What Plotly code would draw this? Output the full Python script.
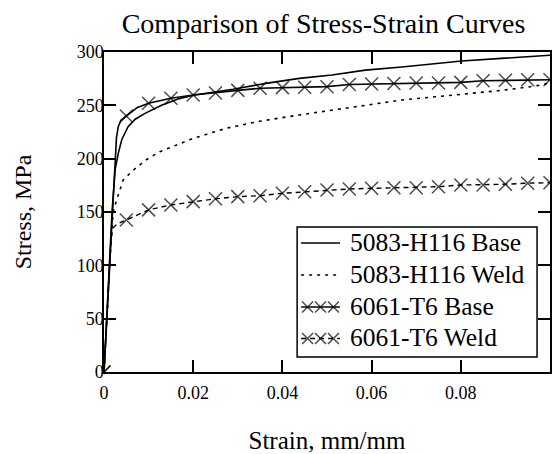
import plotly.graph_objects as go
import numpy as np

# ---- data ----
base_5083_strain = [0, 0.0006, 0.0012, 0.0018, 0.0025, 0.0032, 0.0040, 0.0054, 0.0070, 0.0092, 0.0129,
                    0.0166, 0.0203, 0.0240, 0.0289, 0.0363, 0.0438, 0.0511, 0.0586, 0.0668, 0.0802,
                    0.0891, 0.0966, 0.1000]
base_5083_stress = [0, 50, 100, 150, 190, 205, 218, 230, 237, 242.5, 250,
                    256, 259.7, 262, 265, 270.6, 275.3, 278.4, 283, 286, 291.6,
                    294, 296, 297]

weld_5083_strain = [0, 0.0006, 0.0012, 0.0016, 0.0019, 0.0022, 0.0028, 0.0043, 0.0065, 0.0095, 0.0125,
                    0.0200, 0.0274, 0.0348, 0.0438, 0.0512, 0.0586, 0.0668, 0.0743, 0.0817,
                    0.0891, 0.0966, 0.1000]
weld_5083_stress = [0, 50, 100, 125, 142, 152, 161, 180, 189, 199, 206.5,
                    219, 228.5, 235, 241, 245.6, 250.3, 255, 258, 261,
                    264, 268, 271]

base_6061_strain = [0, 0.0006, 0.0012, 0.0018, 0.0024, 0.0028, 0.0032, 0.0038, 0.005, 0.0075, 0.010,
                    0.015, 0.020, 0.025, 0.030, 0.035, 0.040, 0.045, 0.050, 0.055, 0.060,
                    0.065, 0.070, 0.075, 0.080, 0.085, 0.090, 0.095, 0.100]
base_6061_stress = [0, 50, 100, 150, 200, 220, 230, 236, 240, 248, 252,
                    256.6, 259.7, 261.5, 264, 266, 266.6, 267, 267.5, 269.5, 270,
                    270.5, 271, 271, 271.5, 273, 273.5, 274, 274]

weld_6061_strain = [0, 0.0006, 0.0012, 0.0016, 0.0020, 0.0030, 0.005, 0.010,
                    0.015, 0.020, 0.025, 0.030, 0.035, 0.040, 0.045, 0.050, 0.055, 0.060,
                    0.065, 0.070, 0.075, 0.080, 0.085, 0.090, 0.095, 0.100]
weld_6061_stress = [0, 50, 100, 125, 135, 139, 142.5, 152,
                    156.6, 159.7, 162.4, 164.4, 165.3, 167.5, 169, 170.6, 171.6, 172.2,
                    172.8, 172.8, 173.7, 175.3, 175.3, 176, 177, 177.5]

x_ticks = [0, 0.02, 0.04, 0.06, 0.08]
x_tick_text = ["0", "0.02", "0.04", "0.06", "0.08"]
y_ticks = [0, 50, 100, 150, 200, 250, 300]

series_names = ["5083-H116 Base", "5083-H116 Weld", "6061-T6 Base", "6061-T6 Weld"]

# ---- styling ----
FONT = "Liberation Serif"
MARKER_STEP = 0.005
MARKER_SIZE = 13
W, H = 552, 454
M_L, M_R, M_T, M_B = 104, 0, 52, 82

styles = [
    dict(line=dict(color="black", width=1.6), markers=False),
    dict(line=dict(color="black", width=1.6, dash="3px,5px"), markers=False),
    dict(line=dict(color="black", width=1.6), markers=True),
    dict(line=dict(color="black", width=1.4, dash="5px,4px"), markers=True),
]
x_marker = dict(symbol="x-thin", color="black", line=dict(color="black", width=1.5))


def marker_sizes(strain):
    s = np.asarray(strain) / MARKER_STEP
    return [MARKER_SIZE if abs(v - round(v)) < 1e-6 else 0 for v in s]


fig = go.Figure()
datasets = [(base_5083_strain, base_5083_stress), (weld_5083_strain, weld_5083_stress),
            (base_6061_strain, base_6061_stress), (weld_6061_strain, weld_6061_stress)]
for name, (xs, ys), st in zip(series_names, datasets, styles):
    kw = dict(x=xs, y=ys, name=name, line=st["line"], showlegend=False)
    if st["markers"]:
        kw["mode"] = "lines+markers"
        kw["marker"] = dict(size=marker_sizes(xs), **x_marker)
    else:
        kw["mode"] = "lines"
    fig.add_trace(go.Scatter(**kw))

# ---- custom legend (drawn on a pixel-unit overlay axis pair) ----
LEG_BOX = (298, 227, 539, 357)        # left, top, right, bottom (px)
LEG_ROW_Y = [243, 275, 307, 338.5]    # symbol centre lines (px)
LEG_SYM_X = (302, 341)
LEG_TEXT_X = 349
LEG_FONT = 25.5

for name, st, ry in zip(series_names, styles, LEG_ROW_Y):
    if st["markers"]:
        n = 3
        step = (LEG_SYM_X[1] - LEG_SYM_X[0]) / n
        xs = [LEG_SYM_X[0]] + [LEG_SYM_X[0] + step * (i + 0.5) for i in range(n)] + [LEG_SYM_X[1]]
        sizes = [0] + [11] * n + [0]
        fig.add_trace(go.Scatter(x=xs, y=[ry] * len(xs), xaxis="x2", yaxis="y2", mode="lines+markers",
                                 line=st["line"], marker=dict(size=sizes, **x_marker),
                                 showlegend=False, hoverinfo="skip"))
    else:
        fig.add_trace(go.Scatter(x=list(LEG_SYM_X), y=[ry, ry], xaxis="x2", yaxis="y2", mode="lines",
                                 line=st["line"], showlegend=False, hoverinfo="skip"))
    fig.add_annotation(x=LEG_TEXT_X, y=ry - 1, xref="x2", yref="y2", text=name, showarrow=False,
                       xanchor="left", yanchor="middle",
                       font=dict(family=FONT, size=LEG_FONT, color="black"))

fig.add_shape(type="rect", xref="x2", yref="y2", x0=LEG_BOX[0], y0=LEG_BOX[1], x1=LEG_BOX[2], y1=LEG_BOX[3],
              line=dict(color="black", width=1.5), fillcolor="rgba(0,0,0,0)", layer="above")

axis_common = dict(
    showline=True, linecolor="black", linewidth=1.5, mirror="ticks",
    ticks="inside", ticklen=12, tickwidth=1.5, tickcolor="black",
    showgrid=False, zeroline=False,
    tickfont=dict(family=FONT, size=18, color="black"),
)

fig.update_layout(
    width=W, height=H,
    margin=dict(l=M_L, r=M_R, t=M_T, b=M_B),
    paper_bgcolor="white", plot_bgcolor="white",
    font=dict(family=FONT, color="black"),
    title=dict(text="Comparison of Stress-Strain Curves", x=323.5 / W, xref="container", xanchor="center",
               y=1 - 23 / H, yref="container", yanchor="middle",
               font=dict(family=FONT, size=28, color="black")),
    xaxis=dict(range=[0, 0.1], tickvals=x_ticks, ticktext=x_tick_text,
               title=dict(text="Strain, mm/mm", font=dict(family=FONT, size=25), standoff=30),
               ticklabelstandoff=4,
               **axis_common),
    yaxis=dict(range=[0, 300], tickvals=y_ticks,
               title=dict(text="Stress, MPa", font=dict(family=FONT, size=24), standoff=38),
               ticklabelstandoff=-5,
               **axis_common),
    xaxis2=dict(overlaying="x", range=[M_L, W - M_R], visible=False, fixedrange=True),
    yaxis2=dict(overlaying="y", range=[H - M_B, M_T], visible=False, fixedrange=True),
    showlegend=False,
)

fig.write_html("out.html")
